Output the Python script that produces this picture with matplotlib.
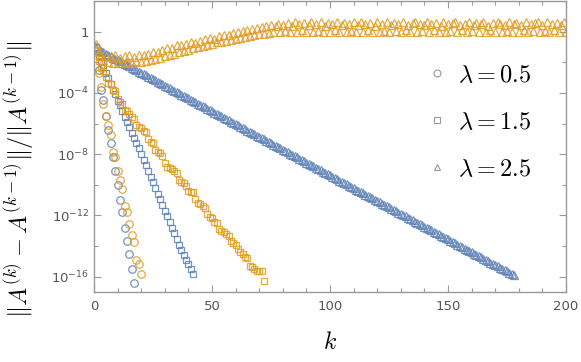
import numpy as np
import matplotlib
matplotlib.use("Agg")
import matplotlib.pyplot as plt
from matplotlib.lines import Line2D
from matplotlib.ticker import FixedLocator, FuncFormatter, NullFormatter

# log10 of the relative change, k = 1, 2, ...
BLUE_05 = [-1.0, -2.5, -3.78, -4.48, -5.5, -6.4, -7.3, -8.2, -9.1, -10.0,
           -11.0, -11.8, -12.8, -13.7, -14.5, -15.5, -16.4]
ORANGE_05 = [-1.2, -2.73, -3.6, -4.7, -5.5, -6.1, -6.75, -7.85, -8.2, -9.1,
             -9.7, -10.3, -11.4, -11.8, -12.55, -13.25, -13.75, -14.9, -15.15, -15.85]

BLUE_15 = [-1.0, -1.6, -2.0, -2.3, -2.7, -3.0, -3.4, -3.8, -4.1, -4.5,
           -4.8, -5.2, -5.55, -5.9, -6.2, -6.6, -6.95, -7.3, -7.6, -8.0,
           -8.37, -8.74, -9.11, -9.48, -9.85, -10.22, -10.59, -10.96, -11.33, -11.7,
           -12.07, -12.44, -12.81, -13.18, -13.55, -13.92, -14.29, -14.6, -14.9, -15.15,
           -15.5, -15.85]
ORANGE_15 = [-1.2, -1.9, -2.4, -2.6, -2.95, -3.35, -3.45, -3.8, -3.9, -4.4,
             -4.6, -4.7, -5.1, -5.2, -5.35, -5.6, -5.7, -6.1, -6.2, -6.3,
             -6.5, -6.55, -7.0, -7.2, -7.3, -7.7, -7.85, -7.95, -8.1, -8.6,
             -8.85, -8.9, -9.0, -9.1, -9.2, -9.7, -9.8, -9.9, -10.05, -10.4,
             -10.5, -10.5, -10.9, -11.2, -11.25, -11.4, -11.5, -11.9, -12.1, -12.2,
             -12.4, -12.5, -12.9, -13.0, -13.1, -13.2, -13.35, -13.7, -13.8, -13.9,
             -14.2, -14.4, -14.5, -14.7, -14.75, -15.3, -15.4, -15.5, -15.6, -15.6,
             -15.65, -16.25]

BLUE_25 = [-1.10, -1.18, -1.27, -1.35, -1.43, -1.52, -1.60, -1.69, -1.77, -1.85,
           -1.94, -2.02, -2.10, -2.19, -2.27, -2.36, -2.44, -2.52, -2.61, -2.69,
           -2.77, -2.86, -2.94, -3.03, -3.11, -3.19, -3.28, -3.36, -3.44, -3.53,
           -3.61, -3.69, -3.78, -3.86, -3.95, -4.03, -4.11, -4.20, -4.28, -4.36,
           -4.45, -4.53, -4.62, -4.70, -4.78, -4.87, -4.95, -5.03, -5.12, -5.20,
           -5.29, -5.37, -5.45, -5.54, -5.62, -5.70, -5.79, -5.87, -5.95, -6.04,
           -6.12, -6.21, -6.29, -6.37, -6.46, -6.54, -6.62, -6.71, -6.79, -6.88,
           -6.96, -7.04, -7.13, -7.21, -7.29, -7.38, -7.46, -7.54, -7.63, -7.71,
           -7.80, -7.88, -7.96, -8.05, -8.13, -8.21, -8.30, -8.38, -8.47, -8.55,
           -8.63, -8.72, -8.80, -8.88, -8.97, -9.05, -9.14, -9.22, -9.30, -9.39,
           -9.47, -9.55, -9.64, -9.72, -9.80, -9.89, -9.97, -10.06, -10.14, -10.22,
           -10.31, -10.39, -10.47, -10.56, -10.64, -10.73, -10.81, -10.89, -10.98, -11.06,
           -11.14, -11.23, -11.31, -11.39, -11.48, -11.56, -11.65, -11.73, -11.81, -11.90,
           -11.98, -12.06, -12.15, -12.23, -12.32, -12.40, -12.48, -12.57, -12.65, -12.73,
           -12.82, -12.90, -12.98, -13.07, -13.15, -13.24, -13.32, -13.40, -13.49, -13.57,
           -13.65, -13.74, -13.82, -13.91, -13.99, -14.07, -14.16, -14.24, -14.32, -14.41,
           -14.49, -14.58, -14.66, -14.74, -14.83, -14.91, -14.99, -15.08, -15.16, -15.24,
           -15.33, -15.41, -15.50, -15.58, -15.66, -15.75, -15.83, -15.91]
ORANGE_25 = [-0.80, -1.30, -1.60, -1.85, -1.60, -2.00, -1.65, -2.05, -1.55, -2.05,
             -1.70, -2.05, -1.60, -2.00, -1.55, -2.05, -1.65, -1.95, -1.50, -2.00,
             -1.55, -1.90, -1.45, -1.85, -1.30, -1.80, -1.35, -1.70, -1.20, -1.60,
             -1.10, -1.55, -1.05, -1.45, -0.85, -1.35, -0.90, -1.25, -0.80, -1.20,
             -0.70, -1.10, -0.75, -1.00, -0.60, -0.95, -0.50, -0.90, -0.40, -0.80,
             -0.45, -0.70, -0.30, -0.65, -0.25, -0.60, -0.20, -0.55, -0.10, -0.45,
             -0.05, -0.40, 0.05, -0.35, 0.10, -0.30, 0.20, -0.20, 0.25, -0.15,
             0.30, -0.15, 0.40, -0.10, 0.45, -0.05, 0.35, 0.50, -0.05, 0.45,
             0.05, 0.55, 0.00, 0.40, 0.60, -0.05, 0.50, 0.10, 0.55, 0.00,
             0.45, 0.60, -0.05, 0.50, 0.05, 0.60, 0.00, 0.40, 0.55, -0.05,
             0.50, 0.10, 0.60, 0.00, 0.45, 0.55, -0.05, 0.50, 0.05, 0.60,
             -0.05, 0.45, 0.60, 0.00, 0.50, 0.10, 0.55, -0.05, 0.40, 0.60,
             0.00, 0.50, 0.05, 0.60, -0.05, 0.45, 0.55, 0.05, 0.50, 0.00,
             0.60, 0.10, 0.45, -0.05, 0.55, 0.60, 0.00, 0.50, 0.05, 0.45,
             0.60, -0.05, 0.50, 0.10, 0.55, 0.00, 0.40, 0.60, -0.05, 0.50,
             0.05, 0.55, 0.60, 0.00, 0.45, 0.10, 0.50, -0.05, 0.60, 0.05,
             0.45, 0.55, 0.00, 0.50, 0.60, -0.05, 0.40, 0.10, 0.55, 0.00,
             0.60, 0.50, -0.05, 0.45, 0.05, 0.60, 0.00, 0.50, 0.55, -0.05,
             0.45, 0.10, 0.60, 0.00, 0.50, 0.05, 0.55, 0.60, -0.05, 0.45,
             0.05, 0.60, 0.00, 0.50, 0.10, 0.55, -0.05, 0.45, 0.60, 0.00]

LABELS = [r"$\lambda = 0.5$", r"$\lambda = 1.5$", r"$\lambda = 2.5$"]
BLUE = "#5E81B5"
ORANGE = "#E19C24"
FRAME = "#999999"

plt.rcParams["mathtext.fontset"] = "cm"

fig = plt.figure(figsize=(5.81, 3.62), dpi=100)
ax = fig.add_axes([94 / 581, 1 - 292 / 362, 472 / 581, 291 / 362])

series = [(BLUE_05, BLUE, "o", 5.4), (BLUE_15, BLUE, "s", 5.0), (BLUE_25, BLUE, "^", 6.2),
          (ORANGE_05, ORANGE, "o", 5.4), (ORANGE_15, ORANGE, "s", 5.0), (ORANGE_25, ORANGE, "^", 6.2)]
for vals, col, mk, ms in series:
    k = np.arange(1, len(vals) + 1)
    ax.plot(k, 10.0 ** np.array(vals), linestyle="none", marker=mk, ms=ms,
            mfc="none", mec=col, mew=0.9, alpha=0.85)

ax.set_yscale("log")
ax.set_xlim(0, 200)
ax.set_ylim(1e-17, 1e2)

ax.xaxis.set_major_locator(FixedLocator([0, 50, 100, 150, 200]))
ax.xaxis.set_minor_locator(FixedLocator(np.arange(0, 201, 10)))
ax.yaxis.set_major_locator(FixedLocator([1e-16, 1e-12, 1e-8, 1e-4, 1]))
ax.yaxis.set_minor_locator(FixedLocator([1e-14, 1e-10, 1e-6, 1e-2]))

def yfmt(v, pos):
    e = int(round(np.log10(v)))
    return "1" if e == 0 else r"$\mathdefault{10^{%d}}$" % e

ax.yaxis.set_major_formatter(FuncFormatter(yfmt))
ax.yaxis.set_minor_formatter(NullFormatter())

for s in ax.spines.values():
    s.set_color(FRAME)
    s.set_linewidth(1.0)
ax.tick_params(which="both", direction="in", top=True, right=True, color=FRAME,
               labelcolor="#555555", labelsize=9.5, width=0.8)
ax.tick_params(which="major", length=5)
ax.tick_params(which="minor", length=3)
ax.tick_params(axis="x", pad=6)

ax.set_xlabel(r"$k$", fontsize=17, labelpad=12)
fig.text(19 / 581, 1 - 179 / 362, r"$\|A^{(k)}-A^{(k-1)}\|/\|A^{(k-1)}\|$",
         rotation=90, fontsize=17.5, ha="center", va="center")

handles = [Line2D([], [], linestyle="none", marker=m, ms=ms, mfc="none", mec="#999999", mew=0.8)
           for m, ms in [("o", 5), ("s", 4), ("^", 4.5)]]
ax.legend(handles, LABELS, loc="center left", bbox_to_anchor=(0.655, 0.585),
          frameon=False, fontsize=17.5, labelspacing=0.95, handletextpad=0.35,
          handlelength=1.0)

fig.savefig("out.png", dpi=100)
